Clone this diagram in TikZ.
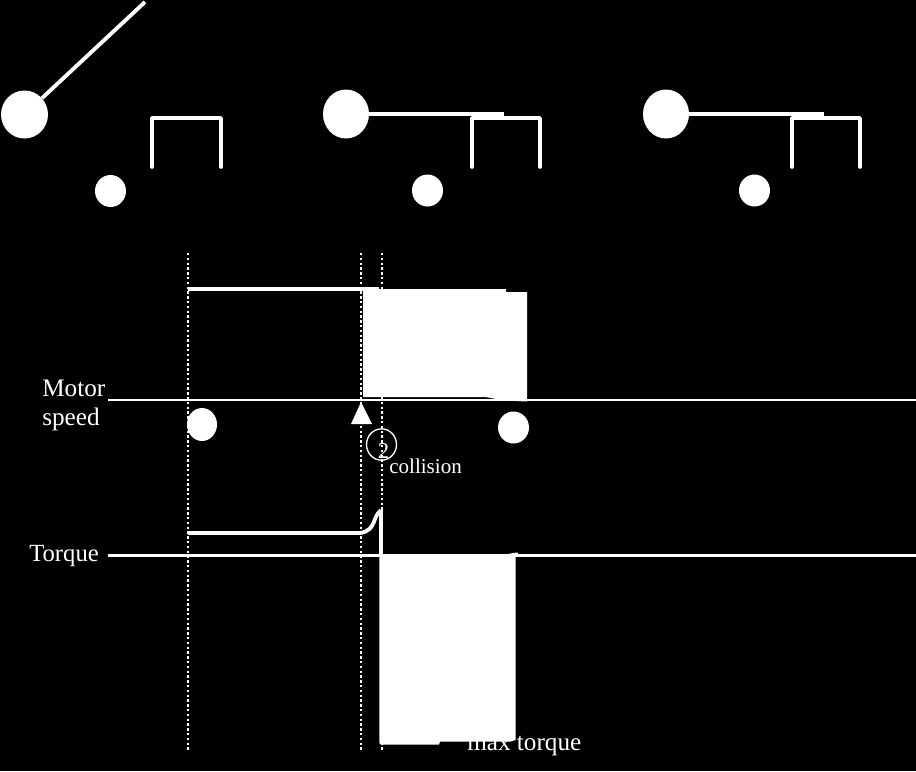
\documentclass[tikz,border=0pt]{standalone}
\usepackage{fontspec}
\setmainfont{Liberation Serif}
\usetikzlibrary{shapes.geometric}
\tikzset{
  x=0.75pt,y=-0.75pt,
  wline/.style={draw=white,line width=2.9pt},
  thinl/.style={draw=white,line width=1.55pt},
  dotl/.style={draw=white,line width=1.5pt,dash pattern=on 1.8pt off 1.8pt},
  ball/.style 2 args={ellipse,fill=white,inner sep=0pt,minimum width=#1*0.75pt,minimum height=#2*0.75pt},
  lab/.style={text=white,inner sep=0pt,font=\fontsize{18.9}{22}\selectfont,align=left},
  blockf/.style={fill=white,draw=none},
  cup/.style={draw=white,line width=2.7pt,line join=round,line cap=round}
}
\begin{document}
\begin{tikzpicture}
\useasboundingbox[fill=black] (0,0) rectangle (916,771);
% top row
\node[ball={47}{48}] (b1) at (24.5,114.5) {};
\coordinate (e1) at (145,2);
\draw[wline] (b1) -- (e1);
\node[ball={46}{49}] (b2) at (346,114) {};
\coordinate (e2) at (504,114);
\draw[wline] (b2) -- (e2);
\node[ball={46}{49}] (b3) at (666,114) {};
\coordinate (e3) at (824,114);
\draw[wline] (b3) -- (e3);
\draw[cup] (152,167) -- (152,118) -- (221,118) -- (221,167);
\draw[cup] (472,167) -- (472,118) -- (540,118) -- (540,167);
\draw[cup] (792,167) -- (792,118) -- (860,118) -- (860,167);
\node[ball={31}{32}] (s1) at (110.5,191) {};
\node[ball={31}{32}] (s2) at (427.5,190.5) {};
\node[ball={31}{32}] (s3) at (754.5,190.5) {};
% labels under the filled block
\node[lab,anchor=base west] (mt) at (467,750) {max torque};
\node[lab,anchor=base west] (ms) at (42,396) {Motor};
\node[lab,anchor=base west] (sp) at (42,425.5) {speed};
\node[lab,anchor=base west,font=\fontsize{18.5}{22}\selectfont] (tq) at (29,561) {Torque};
\node[lab,anchor=base west,font=\fontsize{15.8}{20}\selectfont] (co) at (389,473) {collision};
% dotted guides
\coordinate (d1t) at (188,253); \coordinate (d1b) at (188,752);
\coordinate (d2t) at (361,253); \coordinate (d2b) at (361,752);
\coordinate (d3t) at (382,253); \coordinate (d3b) at (382,752);
\draw[dotl] (d1t) -- (d1b);
\draw[dotl] (d2t) -- (d2b);
\draw[dotl] (d3t) -- (d3b);
% axes
\coordinate (a1l) at (108,400); \coordinate (a1r) at (916,400);
\coordinate (a2l) at (108,555.5); \coordinate (a2r) at (916,555.5);
\draw[thinl] (a1l) -- (a1r);
\draw[thinl] (a2l) -- (a2r);
% motor speed trace
\draw[wline] (188,289) -- (379,289);
\fill[blockf] (363,289) -- (506,289) -- (506,292) -- (527,292) -- (527,401.5) -- (505,400.5) -- (485,397) -- (363,397) -- cycle;
% torque trace
\draw[wline] (188,533) -- (360,533) .. controls (368,532) and (372,528) .. (375,519) .. controls (377,514) and (379,512) .. (381,510);
\draw[draw=white,line width=2.6pt] (381,510) -- (381,556);
\fill[blockf] (379.3,555) -- (515.7,555) -- (515.7,740) -- (510,741.7) -- (440,741.7) -- (439,744.5) -- (381,744.5) -- (379.3,743) -- cycle;
\fill[blockf] (501,555) .. controls (508,555) and (511,552.5) .. (518,552.5) -- (517.5,556) -- cycle;
% markers
\node[ball={30}{33}] (m1) at (202,424.5) {};
\node[ball={31}{32}] (m2) at (513.5,427.5) {};
\fill[white] (361,402) -- (372,424) -- (351,424) -- cycle;
\node[ellipse,draw=white,line width=1pt,minimum width=22.5pt,minimum height=23.5pt,inner sep=0pt] (c2) at (381.5,444.5) {};
\node[text=white,inner sep=0pt,font=\fontsize{17}{20}\selectfont,anchor=base] (n2) at (383.5,458) {2};
\end{tikzpicture}
\end{document}
